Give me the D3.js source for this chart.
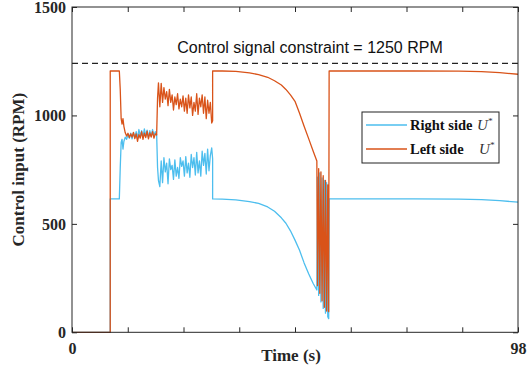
<!DOCTYPE html>
<html lang="en">
<head>
<meta charset="UTF-8">
<title>Control input</title>
<script src="https://d3js.org/d3.v7.min.js"></script>
<style>
    body { margin: 0; background: #fff; }
    .tick text { font-family: "Liberation Serif", "Times New Roman", serif; font-weight: bold; font-size: 16px; fill: #262626; }
    .axis-title { font-family: "Liberation Serif", "Times New Roman", serif; font-weight: bold; font-size: 17px; fill: #262626; }
    .note { font-family: "Liberation Sans", Arial, sans-serif; font-size: 16px; fill: #111; }
    .legend-text { font-family: "Liberation Serif", "Times New Roman", serif; font-weight: bold; font-size: 14.5px; fill: #111; }
</style>
</head>
<body>
<svg id="chart" width="527" height="369"></svg>
<script>
    // time (s), shared by both series
    const time = [
        0, 8.4, 8.4, 10.4,
        10.6, 10.8, 11.0, 11.2, 11.4, 11.7, 12.0, 12.3, 12.6, 12.9, 13.2, 13.5, 13.8, 14.1, 14.4,
        14.7, 15.0, 15.3, 15.6, 15.9, 16.2, 16.5, 16.8, 17.1, 17.4, 17.7, 18.0, 18.3, 18.6,
        18.8, 19.0, 19.3, 19.6, 19.9, 20.2, 20.5, 20.8, 21.1, 21.4, 21.7, 22.0, 22.3, 22.6, 22.9,
        23.2, 23.5, 23.8, 24.1, 24.4, 24.7, 25.0, 25.3, 25.6, 25.9, 26.2, 26.5, 26.8, 27.1, 27.4,
        27.7, 28.0, 28.3, 28.6, 28.9, 29.2, 29.5, 29.8, 30.1, 30.4, 30.7, 30.9,
        30.9, 33, 36, 39, 41, 43, 44.5, 46, 47, 48, 49, 50, 51, 52, 53, 53.8,
        53.95, 54.2, 54.45, 54.7, 54.95, 55.2, 55.45, 55.7, 55.95, 56.2, 56.4,
        56.5, 75, 85, 90, 94, 98
    ];
    // right side control input (RPM)
    const rightSide = [
        0, 0, 615, 615,
        760, 875, 890, 845, 880, 900, 890, 912, 895, 918, 892, 920, 898, 925, 895,
        935, 905, 930, 900, 938, 905, 932, 898, 930, 905, 935, 908, 925, 912,
        760, 700, 672, 790, 690, 805, 740, 780, 685, 800, 750, 770, 705, 795, 720,
        760, 710, 805, 765, 790, 720, 810, 735, 780, 715, 820, 760, 805, 725, 830,
        735, 790, 720, 835, 770, 825, 730, 845, 745, 815, 850, 800,
        615, 614, 611, 603, 594, 578, 558, 528, 503, 468, 425, 378, 320, 270, 225, 195,
        715, 170, 735, 140, 712, 110, 700, 88, 690, 72, 63,
        615, 615, 614, 612, 607, 600
    ];
    // left side control input (RPM)
    const leftSide = [
        0, 0, 1205, 1205,
        1120, 985, 960, 985, 950, 920, 905, 918, 898, 915, 900, 922, 893, 915, 880,
        912, 895, 925, 890, 918, 898, 928, 892, 920, 900, 925, 895, 915, 910,
        1080, 1150, 1040, 1148, 1060, 1128, 1075, 1110, 1045, 1120, 1060, 1095, 1025, 1085, 1050,
        1100, 1030, 1075, 1040, 1090, 1020, 1080, 1010, 1095, 1035, 1085, 1000, 1060, 1020, 1100,
        1005, 1080, 1040, 1095, 1010, 1085, 985, 1070, 1010, 1060, 965, 975,
        1205, 1205, 1203, 1196, 1188, 1176, 1160, 1140, 1120, 1095, 1065, 1010, 950, 893, 835, 790,
        215, 755, 180, 740, 145, 722, 115, 700, 98, 680, 95,
        1205, 1205, 1204, 1202, 1197, 1190
    ];
    const constraintLevel = 1240;
    const xTicks = [0, 12.25, 24.5, 36.75, 49, 61.25, 73.5, 85.75, 98];
    const xLabels = [0, 98];
    const yTicks = [0, 500, 1000, 1500];
    const seriesNames = ["Right side", "Left side"];
    const colors = ["#4DBEEE", "#D95319"];

    const W = 527, H = 369;
    const margin = {top: 7, right: 9, bottom: 36.7, left: 72};
    const width = W - margin.left - margin.right;
    const height = H - margin.top - margin.bottom;

    const svg = d3.select("#chart");
    const g = svg.append("g").attr("transform", `translate(${margin.left},${margin.top})`);

    const x = d3.scaleLinear().domain([0, 98]).range([0, width]);
    const y = d3.scaleLinear().domain([0, 1500]).range([height, 0]);

    // constraint line
    g.append("line")
        .attr("x1", 0).attr("x2", width)
        .attr("y1", y(constraintLevel)).attr("y2", y(constraintLevel))
        .attr("stroke", "#222").attr("stroke-width", 1.2)
        .attr("stroke-dasharray", "6,4");

    g.append("text")
        .attr("class", "note")
        .attr("x", 238).attr("y", 46)
        .attr("text-anchor", "middle")
        .text("Control signal constraint = 1250 RPM");

    const line = d3.line().x((d, i) => x(time[i])).y(d => y(d));
    [rightSide, leftSide].forEach((s, k) => {
        g.append("path")
            .datum(s)
            .attr("fill", "none")
            .attr("stroke", colors[k])
            .attr("stroke-width", 1.3)
            .attr("stroke-linejoin", "round")
            .attr("d", line);
    });

    // axes (ticks inward on all four sides)
    const fmtX = d => xLabels.includes(d) ? d : "";
    g.append("g").attr("transform", `translate(0,${height})`)
        .call(d3.axisBottom(x).tickValues(xTicks).tickSizeInner(-5).tickSizeOuter(0).tickPadding(10).tickFormat(fmtX));
    g.append("g")
        .call(d3.axisTop(x).tickValues(xTicks).tickSizeInner(-5).tickSizeOuter(0).tickFormat(""));
    g.append("g")
        .call(d3.axisLeft(y).tickValues(yTicks).tickSizeInner(-5).tickSizeOuter(0).tickPadding(6).tickFormat(d3.format("d")));
    g.append("g").attr("transform", `translate(${width},0)`)
        .call(d3.axisRight(y).tickValues(yTicks).tickSizeInner(-5).tickSizeOuter(0).tickFormat(""));
    g.selectAll(".domain").remove();
    g.selectAll(".tick line").attr("stroke", "#262626");
    g.selectAll(".tick text").attr("dy", null).attr("dominant-baseline", "central");
    g.selectAll(".tick text").filter(function() { return this.parentNode.parentNode.getAttribute("transform"); })
        .attr("dominant-baseline", null).attr("dy", "0.71em");

    g.append("rect")
        .attr("width", width).attr("height", height)
        .attr("fill", "none").attr("stroke", "#262626").attr("stroke-width", 1);

    // axis titles
    g.append("text").attr("class", "axis-title")
        .attr("x", width / 2 - 4).attr("y", height + 29)
        .attr("text-anchor", "middle")
        .text("Time (s)");
    svg.append("text").attr("class", "axis-title")
        .attr("transform", `translate(24,${margin.top + height / 2}) rotate(-90)`)
        .attr("text-anchor", "middle")
        .text("Control input (RPM)");

    // legend
    const lg = svg.append("g").attr("transform", "translate(362,112)");
    lg.append("rect").attr("width", 137).attr("height", 51)
        .attr("fill", "#fff").attr("stroke", "#222").attr("stroke-width", 1);
    seriesNames.forEach((name, k) => {
        const yy = 13 + k * 24;
        lg.append("line").attr("x1", 4).attr("x2", 45).attr("y1", yy).attr("y2", yy)
            .attr("stroke", colors[k]).attr("stroke-width", 1.3);
        lg.append("text").attr("class", "legend-text")
            .attr("x", 48).attr("y", yy + 5)
            .text(name);
        const sym = lg.append("text")
            .attr("x", k === 0 ? 115 : 117).attr("y", yy + 5)
            .attr("font-family", "'Liberation Serif', serif")
            .attr("font-style", "italic")
            .attr("font-size", 15).attr("fill", "#333");
        sym.append("tspan").text("U");
        sym.append("tspan").attr("font-size", 9).attr("dy", -6).text("*");
    });
</script>
</body>
</html>
